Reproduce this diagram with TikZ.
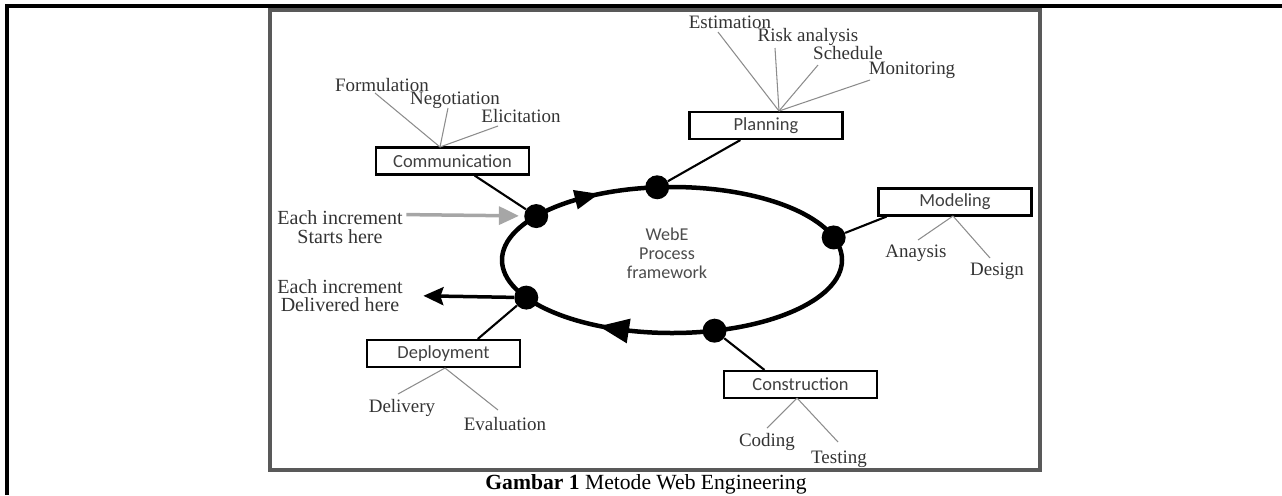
\documentclass[tikz,border=0pt]{standalone}
\usepackage{fontspec}
\setmainfont{Liberation Serif}
\setsansfont{Carlito}
\usetikzlibrary{calc,arrows.meta}

\begin{document}
\begin{tikzpicture}[x=0.02cm,y=-0.02cm,
  phase/.style={draw, line width=1.2pt, minimum width=3.06cm, minimum height=0.54cm, inner sep=0pt, text=black!75, font=\sffamily\fontsize{10.5}{12}\selectfont},
  dot/.style={circle, fill, inner sep=0pt, minimum size=0.48cm},
  sub/.style={inner sep=0pt, text=black!80, font=\fontsize{10.8}{12}\selectfont},
  twig/.style={draw=black!45, line width=0.6pt},
  link/.style={line width=1.2pt}]
  \useasboundingbox (0,0) rectangle (1282,495);
  \draw[line width=0.065cm] (7,495) -- (7,6) -- (1282,6);
  \draw[black!65, line width=0.08cm] (270,10) rectangle (1040,469.5);
  \coordinate (ctr) at (672,260);
  \draw[line width=0.09cm] (ctr) ellipse [x radius=170, y radius=73];
  \foreach \a/\r/\s in {-120/14/1, 110/171/1.25}
    \fill[shift={($(ctr)+(\a:170 and 73)$)}, rotate=\r, scale=\s] (12,0) -- (-12,10) -- (-12,-10) -- cycle;
  \foreach \n/\a in {dc/-143, dp/-95, dm/-18, dk/75.5, dd/149}
    \node[dot] (\n) at ($(ctr)+(\a:170 and 73)$) {};
  \node[align=center, text=black!70, font=\sffamily\fontsize{10.3}{10.8}\selectfont] (webe) at (667,253) {WebE\\Process\\framework};

  \node[phase] (comm) at (452.5,161) {Communication};
  \node[phase] (plan) at (766,125.5) {Planning};
  \node[phase] (modl) at (955,202) {Modeling};
  \node[phase] (cons) at (800.5,384.5) {Construction};
  \node[phase] (depl) at (443.5,353.5) {Deployment};
  \draw[link] (dc) -- (comm);
  \draw[link] (dp) -- (plan);
  \draw[link] (dm) -- (modl.-168);
  \draw[link] (dk) -- (cons.158);
  \draw[link] (dd) -- (depl.23);

  \coordinate (hc) at (440,147);
  \coordinate (hp) at (779,111);
  \coordinate (hm) at (953,216);
  \coordinate (hk) at (797,398);
  \coordinate (hd) at (445,368);
  \foreach \n/\t/\lx/\ly/\ex/\ey/\h in {
      form/Formulation/382/85/375/93/hc,
      nego/Negotiation/455/100/448/108/hc,
      elic/Elicitation/521/116/498/126/hc,
      esti/Estimation/730/22/718/32/hp,
      risk/Risk analysis/808/37/775/48/hp,
      sche/Schedule/848/53/818/65/hp,
      moni/Monitoring/912/70/870/80/hp,
      anay/Anaysis/916/253/918/240/hm,
      desi/Design/997/271/990/258/hm,
      codi/Coding/767/442/767/428/hk,
      test/Testing/839/459/838/442/hk,
      delv/Delivery/402/408/398/394/hd,
      eval/Evaluation/505/424/498/410/hd}{
    \node[sub] (\n) at (\lx,\ly) {\t};
    \coordinate (\n-end) at (\ex,\ey);
    \draw[twig] (\n-end) -- (\h);
  }

  \node[align=center, inner sep=2pt, text=black!80, font=\fontsize{11.4}{10.8}\selectfont] (start) at (340,227.5) {Each increment\\Starts here};
  \node[align=center, inner sep=2pt, text=black!80, font=\fontsize{11.4}{10.6}\selectfont] (deliv) at (340,295.5) {Each increment\\Delivered here};
  \draw[line width=0.07cm, black!35, -{Triangle[length=0.4cm, width=0.36cm]}, shorten >=0.1cm] (start.11) -- (dc);
  \draw[line width=0.07cm, -{Stealth[length=0.4cm, width=0.36cm, inset=0.06cm]}, shorten >=0.34cm] (dd) -- (deliv.east);

  \node (cap) at (646,484) {\fontsize{12.3}{14}\selectfont\textbf{Gambar 1} Metode Web Engineering};
\end{tikzpicture}
\end{document}
